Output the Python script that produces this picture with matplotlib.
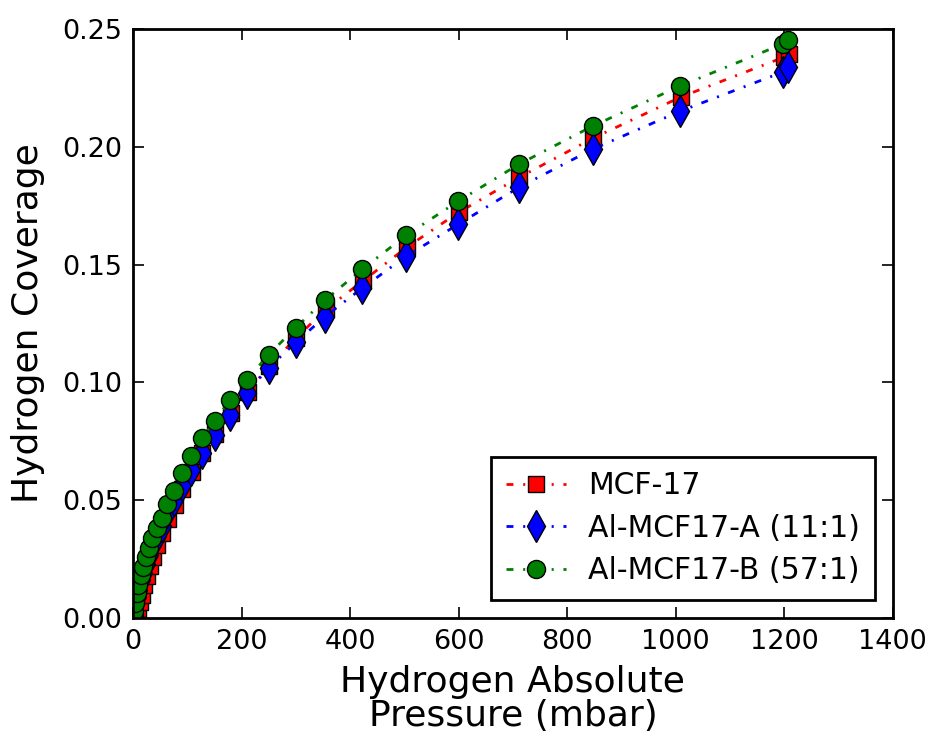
import matplotlib
matplotlib.use("Agg")
import matplotlib.pyplot as plt

# Data
mcf17_p = [3, 6, 9, 12, 16, 20, 25, 31, 37, 45, 54, 64, 77, 91, 108, 128, 152, 180, 211,
           251, 301, 355, 423, 504, 600, 712, 848, 1009, 1199, 1209]
mcf17_c = [0.000, 0.002, 0.004, 0.007, 0.010, 0.014, 0.018, 0.022, 0.026, 0.031, 0.036,
           0.042, 0.048, 0.055, 0.062, 0.070, 0.078, 0.087, 0.096, 0.107, 0.119, 0.131,
           0.143, 0.1573, 0.1722, 0.1871, 0.2037, 0.2211, 0.2380, 0.2394]

alA_p = [1, 2, 4, 7, 9, 15, 18, 24, 30, 35, 44, 53, 63, 76, 90, 107, 127, 151, 179, 210,
         250, 300, 354, 422, 503, 599, 711, 847, 1008, 1197, 1207]
alA_c = [0.001, 0.003, 0.006, 0.009, 0.012, 0.016, 0.019, 0.023, 0.027, 0.031, 0.035,
         0.039, 0.045, 0.050, 0.0565, 0.0629, 0.0702, 0.0778, 0.0863, 0.0957, 0.1063,
         0.117, 0.128, 0.140, 0.1535, 0.1671, 0.1828, 0.199, 0.2151, 0.2317, 0.2338]

alB_p = [1, 2, 4, 7, 9, 15, 18, 24, 30, 35, 44, 53, 63, 76, 90, 107, 127, 151, 179, 210,
         250, 300, 354, 422, 503, 599, 711, 847, 1008, 1197, 1207]
alB_c = [0.001, 0.003, 0.0064, 0.0106, 0.014, 0.0183, 0.0217, 0.026, 0.0298, 0.034,
         0.0383, 0.0425, 0.0485, 0.054, 0.0616, 0.0689, 0.0765, 0.0837, 0.0927, 0.1012,
         0.1118, 0.1233, 0.135, 0.148, 0.1624, 0.1769, 0.1926, 0.2088, 0.2258, 0.2436,
         0.2453]

labels = ["MCF-17", "Al-MCF17-A (11:1)", "Al-MCF17-B (57:1)"]
x_ticks = [0, 200, 400, 600, 800, 1000, 1200, 1400]
y_ticks = [0.00, 0.05, 0.10, 0.15, 0.20, 0.25]

plt.rcParams['font.family'] = ['DejaVu Sans']
plt.rcParams['lines.scale_dashes'] = False
fig = plt.figure(figsize=(9.32, 7.43), dpi=100)
ax = fig.add_axes([0.1427, 0.168, 0.8153, 0.793])

dd = (5, 7, 1.5, 7)
ax.plot(mcf17_p, mcf17_c, linestyle='-.', dashes=dd, color='red', lw=2, marker='s', ms=12,
        mfc='red', mec='black', mew=1, label=labels[0])
ax.plot(alA_p, alA_c, linestyle='-.', dashes=dd, color='blue', lw=2, marker='d', ms=16,
        mfc='blue', mec='black', mew=1, label=labels[1])
ax.plot(alB_p, alB_c, linestyle='-.', dashes=dd, color='green', lw=2, marker='o', ms=13,
        mfc='green', mec='black', mew=1, label=labels[2])

ax.set_xlim(0, 1400)
ax.set_ylim(0, 0.25)
ax.set_xticks(x_ticks)
ax.set_yticks(y_ticks)
ax.set_xticklabels([str(t) for t in x_ticks])
ax.set_yticklabels([f"{t:.2f}" for t in y_ticks])
ax.tick_params(direction='in', top=True, right=True, length=8, width=1.2,
               labelsize=19.5, pad=8)
for s in ax.spines.values():
    s.set_linewidth(2)

ax.set_xlabel("Hydrogen Absolute\nPressure (mbar)", fontsize=26, linespacing=1.0,
              labelpad=7)
ax.set_ylabel("Hydrogen Coverage", fontsize=26, labelpad=12)

leg = ax.legend(loc='lower right', numpoints=1, fontsize=21.5, fancybox=False,
                edgecolor='black', framealpha=1, borderaxespad=0.6,
                handlelength=2, handletextpad=0.75, labelspacing=0.45, borderpad=0.5)
leg.get_frame().set_linewidth(2)

fig.savefig("out.png", dpi=100)
